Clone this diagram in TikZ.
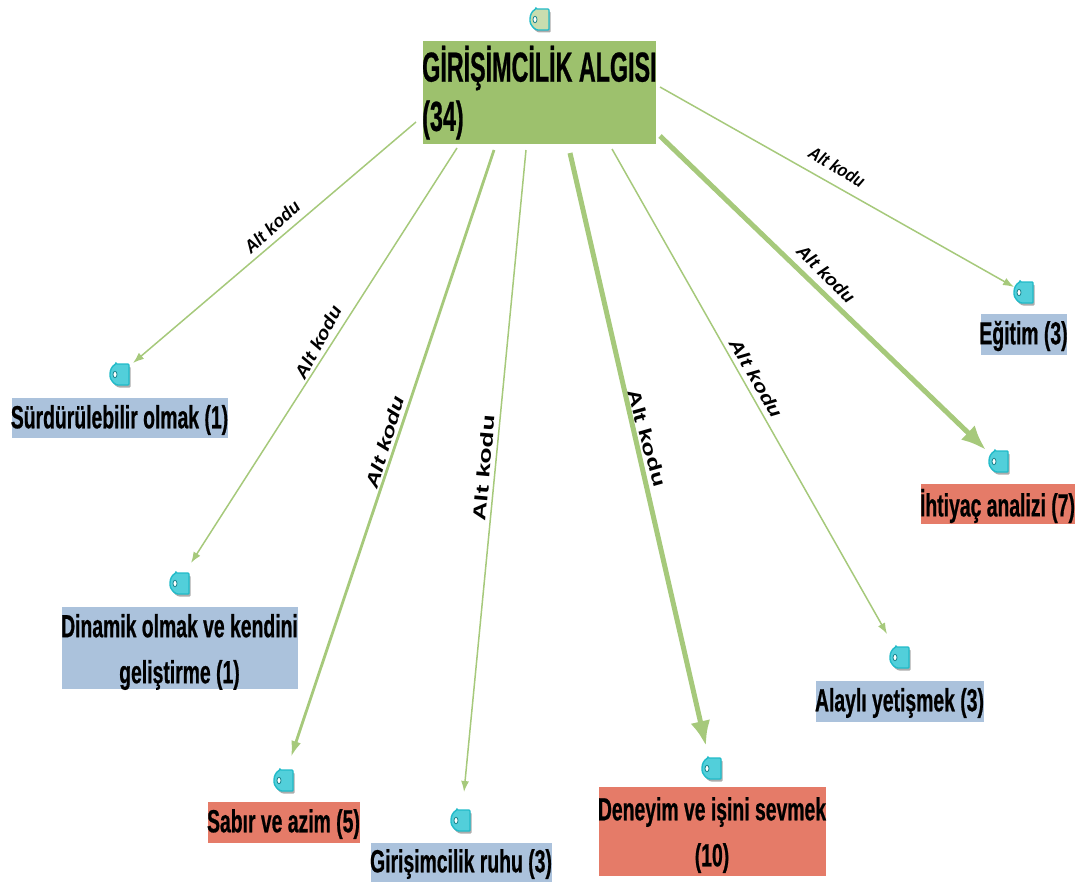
\documentclass[tikz,border=0pt]{standalone}
\usepackage{fontspec}
\setmainfont{Liberation Sans}
\newfontfamily\boxfont{Liberation Sans}[FakeStretch=0.605,FakeBold=0.6]
\newfontfamily\rootfont{Liberation Sans}[FakeStretch=0.555,FakeBold=0.6]
\usetikzlibrary{arrows.meta}
\definecolor{rootc}{HTML}{9DC16D}
\definecolor{bluec}{HTML}{ABC2DC}
\definecolor{redc}{HTML}{E57B68}
\definecolor{linec}{HTML}{A6C97B}
\definecolor{tagc}{HTML}{52CFDA}
\definecolor{tagd}{HTML}{22BBC9}
\tikzset{
  x=1pt,y=-1pt,
  box/.style={anchor=center,inner sep=0pt,draw=white,line width=0.5pt},
  txt/.style={inner sep=0pt,align=center,font=\boxfont\fontsize{32}{46}\selectfont\bfseries},
  roottxt/.style={anchor=west,inner sep=0pt,font=\rootfont\fontsize{42}{42}\selectfont\bfseries},
  bluebox/.style={box,fill=bluec},
  redbox/.style={box,fill=redc},
  thinl/.style={draw=linec,line width=1.5pt,-{Latex[length=11pt,width=8pt]}},
  midl/.style={draw=linec,line width=2.8pt,-{Latex[length=16pt,width=10pt]}},
  thickl/.style={draw=linec,line width=5pt,-{Latex[length=25pt,width=20pt]}},
  lab/.style={font=\fontsize{20}{20}\selectfont\bfseries\itshape,inner sep=0pt},
  labup/.style={font=\fontsize{20}{20}\selectfont\bfseries,inner sep=0pt},
  tagbox/.style={minimum width=21pt,minimum height=25pt,inner sep=0pt}
}
\newcommand{\alt}[2]{\resizebox{#1pt}{#2pt}{Alt kodu}}
\newcommand{\tagpath}{(-4,-11) -- (9,-11) -- (9,10) -- (-3,10) .. controls (-7,8) and (-10,4) .. (-10,0) .. controls (-10,-5) and (-8,-9) .. (-4,-11) -- cycle}
\newcommand{\tagicon}[3][tagc]{%
  \node[tagbox] (#2) at (#3) {};
  \begin{scope}[shift={(#3)}]
    \fill[gray!65,shift={(1.5,2.5)},rounded corners=1pt] \tagpath;
    \fill[#1,draw=tagd,line width=1.4pt,rounded corners=1pt] \tagpath;
    \fill[white,draw=tagd!70!black,line width=0.8pt] (-5,-0.5) ellipse (2 and 3.2);
  \end{scope}}
\begin{document}
\begin{tikzpicture}
\useasboundingbox (0,0) rectangle (1075,883);
% boxes
\node[box,fill=rootc,minimum width=234pt,minimum height=104pt] (root) at (539,92) {};
\node[roottxt] (roota) at (422,68) {GİRİŞİMCİLİK ALGISI};
\node[roottxt] (rootb) at (422,120) {(34)};
\node[bluebox,minimum width=217pt,minimum height=41pt] (n1) at (119.5,417.5) {};
\node[txt] (x1) at (119.5,420) {Sürdürülebilir olmak (1)};
\node[bluebox,minimum width=237pt,minimum height=83pt] (n2) at (179.5,647.5) {};
\node[txt] (x2) at (179.5,652) {Dinamik olmak ve kendini\\geliştirme (1)};
\node[redbox,minimum width=153pt,minimum height=42pt] (n3) at (283.5,822) {};
\node[txt] (x3) at (283.5,824) {Sabır ve azim (5)};
\node[bluebox,minimum width=182pt,minimum height=40pt] (n4) at (461,862) {};
\node[txt] (x4) at (461,864) {Girişimcilik ruhu (3)};
\node[redbox,minimum width=228pt,minimum height=90pt] (n5) at (712,831) {};
\node[txt] (x5) at (712,835) {Deneyim ve işini sevmek\\(10)};
\node[bluebox,minimum width=169pt,minimum height=42pt] (n6) at (899.5,701) {};
\node[txt] (x6) at (899.5,703) {Alaylı yetişmek (3)};
\node[redbox,minimum width=155pt,minimum height=41pt] (n7) at (997.5,503.5) {};
\node[txt] (x7) at (997.5,506) {İhtiyaç analizi (7)};
\node[bluebox,minimum width=87pt,minimum height=42pt] (n8) at (1023.5,334) {};
\node[txt] (x8) at (1023.5,336) {Eğitim (3)};
% tags
\tagicon[rootc!55!white]{t0}{540,20}
\tagicon{t1}{120,375}
\tagicon{t2}{180,584}
\tagicon{t3}{284,781}
\tagicon{t4}{461,821}
\tagicon{t5}{712,769}
\tagicon{t6}{900,658}
\tagicon{t7}{999,462}
\tagicon{t8}{1024,293}
% connector ends
\coordinate (s1) at (416,122);
\coordinate (s2) at (457,148);
\coordinate (s3) at (494,150);
\coordinate (s4) at (526,150);
\coordinate (s5) at (570,153);
\coordinate (s6) at (612,149);
\coordinate (s7) at (660,136);
\coordinate (s8) at (660,87);
\coordinate (e1) at (133,363);
\coordinate (e2) at (191,563);
\coordinate (e3) at (291,757);
\coordinate (e4) at (464,792);
\coordinate (e5) at (706,746);
\coordinate (e6) at (887,634);
\coordinate (e7) at (986,450);
\coordinate (e8) at (1014,287);
\draw[thinl] (s1) -- (e1);
\draw[thinl] (s2) -- (e2);
\draw[midl] (s3) -- (e3);
\draw[thinl] (s4) -- (e4);
\draw[thickl] (s5) -- (e5);
\draw[thinl] (s6) -- (e6);
\draw[thickl] (s7) -- (e7);
\draw[thinl] (s8) -- (e8);
% labels
\node[lab,rotate=42] (l1) at (272,227) {\alt{68}{13}};
\node[lab,rotate=62] (l2) at (318,342) {\alt{80}{13}};
\node[lab,rotate=73] (l3) at (385,442) {\alt{96}{13}};
\node[labup,rotate=85] (l4) at (484,468) {\alt{106}{13}};
\node[labup,rotate=-74] (l5) at (647,438) {\alt{100}{13}};
\node[lab,rotate=-60] (l6) at (756,378) {\alt{88}{13}};
\node[lab,rotate=-45] (l7) at (826,274) {\alt{74}{13}};
\node[lab,rotate=-31] (l8) at (837,167) {\alt{62}{13}};
\end{tikzpicture}
\end{document}
